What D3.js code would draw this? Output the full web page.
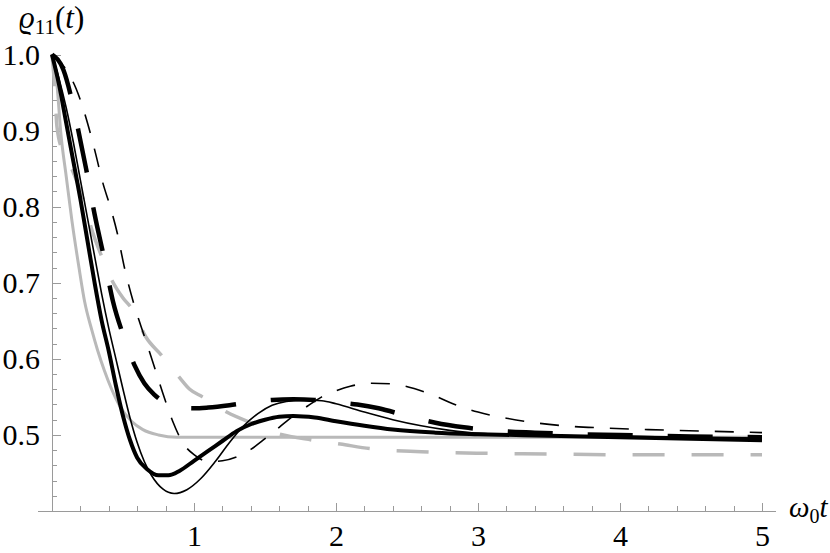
<!DOCTYPE html>
<html lang="en">
<head>
    <meta charset="UTF-8">
    <title>rho11(t)</title>
    <script src="https://d3js.org/d3.v7.min.js"></script>
    <style>
        body {
            margin: 0;
            background: #fff;
        }

        svg {
            display: block;
            font-family: 'Liberation Serif', 'DejaVu Serif', serif;
        }

        .axis path,
        .axis line {
            stroke: #9a9a9a;
            stroke-width: 1;
            shape-rendering: crispEdges;
        }

        .axis text {
            font-family: 'Liberation Serif', 'DejaVu Serif', serif;
            font-size: 30px;
            fill: #000;
        }

        .curve {
            fill: none;
            stroke-linejoin: round;
        }
    </style>
</head>
<body>
    <svg width="830" height="553"></svg>

    <script>
        // tick values
        const xMajorTicks = [1, 2, 3, 4, 5];
        const yMajorTicks = [0.5, 0.6, 0.7, 0.8, 0.9, 1.0];

        // gray solid
        const tGraySolid = [0, 0.035, 0.063, 0.1, 0.14, 0.19, 0.23, 0.28, 0.32, 0.37, 0.42, 0.48, 0.56, 0.64, 0.75, 0.88, 1.0, 1.5, 2.0, 3.0, 4.0, 5.0];
        const rhoGraySolid = [1.0, 0.96, 0.895, 0.84, 0.782, 0.72, 0.675, 0.638, 0.612, 0.584, 0.56, 0.537, 0.518, 0.507, 0.5, 0.497, 0.497, 0.497, 0.497, 0.497, 0.497, 0.497];

        // gray dashed
        const tGrayDash = [0, 0.02, 0.035, 0.08, 0.14, 0.22, 0.285, 0.36, 0.42, 0.5, 0.57, 0.66, 0.77, 0.9, 0.97, 1.06, 1.23, 1.44, 1.54, 1.84, 2.03, 2.24, 2.6, 3.0, 3.5, 4.0, 5.0];
        const rhoGrayDash = [1.0, 0.955, 0.905, 0.87, 0.849, 0.809, 0.767, 0.73, 0.704, 0.68, 0.664, 0.629, 0.605, 0.575, 0.56, 0.55, 0.53, 0.513, 0.505, 0.493, 0.488, 0.482, 0.478, 0.476, 0.475, 0.474, 0.474];

        // black thick solid
        const tThickSolid = [0, 0.05, 0.1, 0.15, 0.2, 0.25, 0.3, 0.35, 0.4, 0.45, 0.5, 0.55, 0.6, 0.67, 0.75, 0.82, 0.9, 1.0, 1.1, 1.2, 1.3, 1.4, 1.5, 1.6, 1.7, 1.85, 2.0, 2.2, 2.4, 2.7, 3.0, 3.5, 4.0, 4.5, 5.0];
        const rhoThickSolid = [1.0, 0.96, 0.91, 0.86, 0.81, 0.755, 0.70, 0.65, 0.61, 0.565, 0.525, 0.493, 0.47, 0.455, 0.447, 0.447, 0.453, 0.466, 0.479, 0.492, 0.505, 0.514, 0.52, 0.524, 0.525, 0.523, 0.518, 0.512, 0.507, 0.503, 0.501, 0.499, 0.497, 0.495, 0.493];

        // black thin solid
        const tThinSolid = [0, 0.05, 0.1, 0.15, 0.2, 0.25, 0.3, 0.35, 0.4, 0.45, 0.5, 0.55, 0.6, 0.65, 0.7, 0.78, 0.86, 0.95, 1.05, 1.15, 1.25, 1.35, 1.45, 1.55, 1.65, 1.78, 1.9, 2.0, 2.2, 2.4, 2.6, 2.8, 3.0, 3.3, 3.7, 4.2, 5.0];
        const rhoThinSolid = [1.0, 0.968, 0.93, 0.885, 0.835, 0.785, 0.735, 0.685, 0.64, 0.6, 0.56, 0.522, 0.49, 0.465, 0.447, 0.429, 0.423, 0.428, 0.443, 0.465, 0.49, 0.512, 0.528, 0.539, 0.544, 0.546, 0.545, 0.541, 0.53, 0.52, 0.512, 0.506, 0.502, 0.5, 0.499, 0.498, 0.496];

        // black thick dashed
        const tThickDash = [0, 0.08, 0.14, 0.18, 0.24, 0.3, 0.37, 0.43, 0.5, 0.58, 0.65, 0.72, 0.8, 0.9, 1.0, 1.1, 1.25, 1.4, 1.55, 1.7, 1.85, 2.0, 2.15, 2.3, 2.5, 2.7, 2.9, 3.1, 3.4, 3.7, 4.0, 4.5, 5.0];
        const rhoThickDash = [1.0, 0.98, 0.94, 0.905, 0.85, 0.79, 0.73, 0.675, 0.632, 0.592, 0.568, 0.553, 0.542, 0.536, 0.535, 0.536, 0.539, 0.543, 0.546, 0.547, 0.546, 0.543, 0.54, 0.535, 0.525, 0.516, 0.51, 0.506, 0.503, 0.501, 0.5, 0.498, 0.497];

        // black thin dashed
        const tThinDash = [0, 0.1, 0.17, 0.25, 0.3, 0.36, 0.41, 0.46, 0.51, 0.58, 0.65, 0.72, 0.78, 0.85, 0.92, 1.0, 1.1, 1.2, 1.3, 1.4, 1.5, 1.6, 1.7, 1.8, 1.9, 2.0, 2.1, 2.25, 2.4, 2.55, 2.7, 2.85, 3.0, 3.2, 3.4, 3.6, 3.9, 4.2, 4.6, 5.0];
        const rhoThinDash = [1.0, 0.98, 0.955, 0.91, 0.875, 0.83, 0.8, 0.765, 0.72, 0.67, 0.63, 0.59, 0.555, 0.518, 0.49, 0.474, 0.465, 0.466, 0.471, 0.481, 0.495, 0.51, 0.525, 0.538, 0.55, 0.558, 0.564, 0.568, 0.567, 0.561, 0.551, 0.539, 0.53, 0.522, 0.516, 0.512, 0.509, 0.507, 0.505, 0.503];

        const series = [
            { t: tGraySolid, rho: rhoGraySolid, color: '#b9b9b9', width: 3, dash: null },
            { t: tGrayDash, rho: rhoGrayDash, color: '#b9b9b9', width: 3.5, dash: '32,27' },
            { t: tThickDash, rho: rhoThickDash, color: '#000', width: 4.5, dash: '45,35' },
            { t: tThinDash, rho: rhoThinDash, color: '#000', width: 1.6, dash: '19,16' },
            { t: tThinSolid, rho: rhoThinSolid, color: '#000', width: 1.6, dash: null },
            { t: tThickSolid, rho: rhoThickSolid, color: '#000', width: 4, dash: null }
        ];

        const svg = d3.select('svg');

        const x = d3.scaleLinear().domain([0, 5]).range([52, 762]);
        const y = d3.scaleLinear().domain([0.4, 1.0]).range([511, 54.5]);

        // minor ticks
        const xMinor = d3.range(1, 26).map(i => i * 0.2).filter(v => Math.abs(v - Math.round(v)) > 1e-6);
        const yMinor = d3.range(21, 50).map(i => i * 0.02).filter(v => Math.abs(v * 10 - Math.round(v * 10)) > 1e-6);

        const gx = svg.append('g')
            .attr('class', 'axis x-axis')
            .attr('transform', `translate(0,${y(0.4)})`);

        gx.append('g')
            .call(d3.axisBottom(x).tickValues(xMinor).tickSizeInner(-5).tickSizeOuter(0).tickFormat(''))
            .call(g => g.select('.domain').remove());

        gx.append('g')
            .call(d3.axisBottom(x).tickValues(xMajorTicks).tickSizeInner(-8).tickSizeOuter(0).tickPadding(14).tickFormat(d3.format('d')))
            .call(g => g.select('.domain').remove())
            .attr('font-family', null)
            .attr('font-size', null);

        gx.append('line')
            .attr('x1', x(-0.1))
            .attr('x2', x(5.1))
            .attr('y1', 0)
            .attr('y2', 0);

        const gy = svg.append('g')
            .attr('class', 'axis y-axis')
            .attr('transform', `translate(${x(0)},0)`);

        gy.append('g')
            .call(d3.axisLeft(y).tickValues(yMinor).tickSizeInner(-5).tickSizeOuter(0).tickFormat(''))
            .call(g => g.select('.domain').remove());

        gy.append('g')
            .call(d3.axisLeft(y).tickValues(yMajorTicks).tickSizeInner(-9).tickSizeOuter(0).tickPadding(12).tickFormat(d3.format('.1f')))
            .call(g => g.select('.domain').remove())
            .attr('font-family', null)
            .attr('font-size', null);

        gy.append('line')
            .attr('x1', 0)
            .attr('x2', 0)
            .attr('y1', y(1.0))
            .attr('y2', y(0.4));

        // curves
        const line = d3.line()
            .x(d => x(d[0]))
            .y(d => y(d[1]))
            .curve(d3.curveMonotoneX);

        svg.append('g')
            .selectAll('path')
            .data(series)
            .enter().append('path')
            .attr('class', 'curve')
            .attr('d', s => line(s.t.map((t, i) => [t, s.rho[i]])))
            .attr('stroke', s => s.color)
            .attr('stroke-width', s => s.width)
            .attr('stroke-dasharray', s => s.dash);

        // axis labels
        const yLabel = svg.append('text')
            .attr('x', 19)
            .attr('y', 28)
            .attr('font-size', 31);
        yLabel.append('tspan').attr('font-style', 'italic').text('ϱ');
        yLabel.append('tspan').attr('font-size', 21).attr('dy', 6).text('11');
        yLabel.append('tspan').attr('dy', -6).text('(');
        yLabel.append('tspan').attr('font-style', 'italic').text('t');
        yLabel.append('tspan').text(')');

        const xLabel = svg.append('text')
            .attr('x', 789)
            .attr('y', 517)
            .attr('font-size', 29);
        xLabel.append('tspan').attr('font-style', 'italic').text('ω');
        xLabel.append('tspan').attr('font-size', 20).attr('dy', 6).text('0');
        xLabel.append('tspan').attr('dy', -6).attr('font-style', 'italic').text('t');
    </script>
</body>
</html>
